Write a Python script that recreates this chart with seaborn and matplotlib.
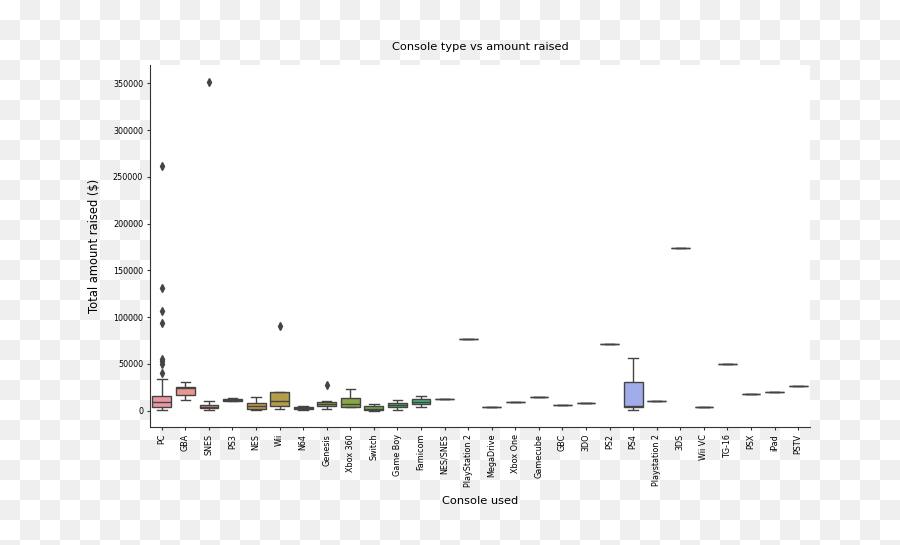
import numpy as np
import pandas as pd
import matplotlib
matplotlib.use("Agg")
import matplotlib.pyplot as plt
import seaborn as sns

consoles = ["PC", "GBA", "SNES", "PS3", "NES", "Wii", "N64", "Genesis", "Xbox 360",
            "Switch", "Game Boy", "Famicom", "NES/SNES", "PlayStation 2", "MegaDrive",
            "Xbox One", "Gamecube", "GBC", "3DO", "PS2", "PS4", "Playstation 2", "3DS",
            "Wii VC", "TG-16", "PSX", "iPad", "PSTV"]

pc_vals = [500, 900, 1300, 1700, 2100, 2500, 2900, 3200, 3400, 3600,
           4200, 4900, 5600, 6300, 7000, 7700, 8400, 9000, 9600,
           10300, 11000, 11700, 12400, 13100, 13800, 14500, 15100, 15700,
           33500, 40400, 50000, 52500, 55400, 93500, 107000, 131000, 262000]
gba_vals = [11400, 17100, 24500, 25700, 30300]
snes_vals = [300, 1500, 2500, 3400, 4300, 5200, 6100, 10700, 351600]
ps3_vals = [10000, 10000, 11000, 12100, 13900]
nes_vals = [500, 1400, 5000, 8600, 14600]
wii_vals = [1800, 3500, 5000, 7500, 10000, 15000, 20300, 20300, 90300]
n64_vals = [700, 1400, 2500, 3600, 4600]
genesis_vals = [1400, 3000, 4600, 5700, 6800, 7800, 8900, 10700, 27800]
xbox360_vals = [3800, 4000, 6800, 13200, 22800]
switch_vals = [0, 100, 1800, 4600, 7500]
gameboy_vals = [300, 3600, 6100, 8200, 11400]
famicom_vals = [3600, 6800, 9600, 12500, 15700]
ps4_vals = [1000, 4300, 4800, 30100, 56700]
single_vals = {"NES/SNES": 12100, "PlayStation 2": 77000, "MegaDrive": 3500,
               "Xbox One": 9200, "Gamecube": 14100, "GBC": 6000, "3DO": 8200,
               "PS2": 71300, "Playstation 2": 10600, "3DS": 174000, "Wii VC": 4300,
               "TG-16": 50000, "PSX": 17700, "iPad": 20200, "PSTV": 25900}

multi_vals = {"PC": pc_vals, "GBA": gba_vals, "SNES": snes_vals, "PS3": ps3_vals,
              "NES": nes_vals, "Wii": wii_vals, "N64": n64_vals, "Genesis": genesis_vals,
              "Xbox 360": xbox360_vals, "Switch": switch_vals, "Game Boy": gameboy_vals,
              "Famicom": famicom_vals, "PS4": ps4_vals}

rows = []
for c in consoles:
    if c in multi_vals:
        for v in multi_vals[c]:
            rows.append((c, v))
    else:
        rows.append((c, single_vals[c]))
df = pd.DataFrame(rows, columns=["console", "amount"])

W, H = 900, 545
fig = plt.figure(figsize=(W / 100, H / 100), dpi=100)

# transparent-background checkerboard look
bg = fig.add_axes([0, 0, 1, 1], zorder=-10)
sq = 20
ny, nx = int(np.ceil(H / sq)), int(np.ceil(W / sq))
board = (np.add.outer(np.arange(ny), np.arange(nx)) % 2).astype(float)
cmap = matplotlib.colors.ListedColormap(["#ffffff", "#efefef"])
bg.imshow(board, cmap=cmap, extent=(0, nx * sq, ny * sq, 0), interpolation="nearest", aspect="auto")
bg.set_xlim(0, W)
bg.set_ylim(H, 0)
bg.axis("off")

ax = fig.add_axes([150 / W, 1 - 427 / H, 660 / W, (427 - 65) / H])
ax.set_facecolor("white")
pal = sns.husl_palette(len(consoles), l=.7)
sns.boxplot(data=df, x="console", y="amount", hue="console", order=consoles,
            hue_order=consoles, palette=pal, legend=False, saturation=0.75,
            width=0.8, linewidth=1.0, linecolor="#444444", ax=ax,
            flierprops=dict(marker="d", markersize=4, markerfacecolor="#444444",
                            markeredgecolor="#444444"))
for s in ["top", "right"]:
    ax.spines[s].set_visible(False)
ax.spines["left"].set_color("#333333")
ax.spines["bottom"].set_color("#333333")
yt = [0, 50000, 100000, 150000, 200000, 250000, 300000, 350000]
ax.set_yticks(yt)
ax.set_yticklabels([str(v) for v in yt])
ax.tick_params(axis="both", labelsize=5.8, length=2.5, pad=2.5, color="#333333")
ax.tick_params(axis="x", rotation=90)
ax.set_ylabel("Total amount raised ($)", fontsize=8.3)
ax.set_xlabel("Console used", fontsize=8.2)
ax.yaxis.set_label_coords(-0.074, 0.5)
ax.xaxis.set_label_coords(0.5, -0.19)
ax.set_title("Console type vs amount raised", fontsize=8.2, pad=11)
ax.set_xlim(-0.5, len(consoles) - 0.5)
ax.set_ylim(-17600, 369600)

fig.savefig("out.png", dpi=100)
